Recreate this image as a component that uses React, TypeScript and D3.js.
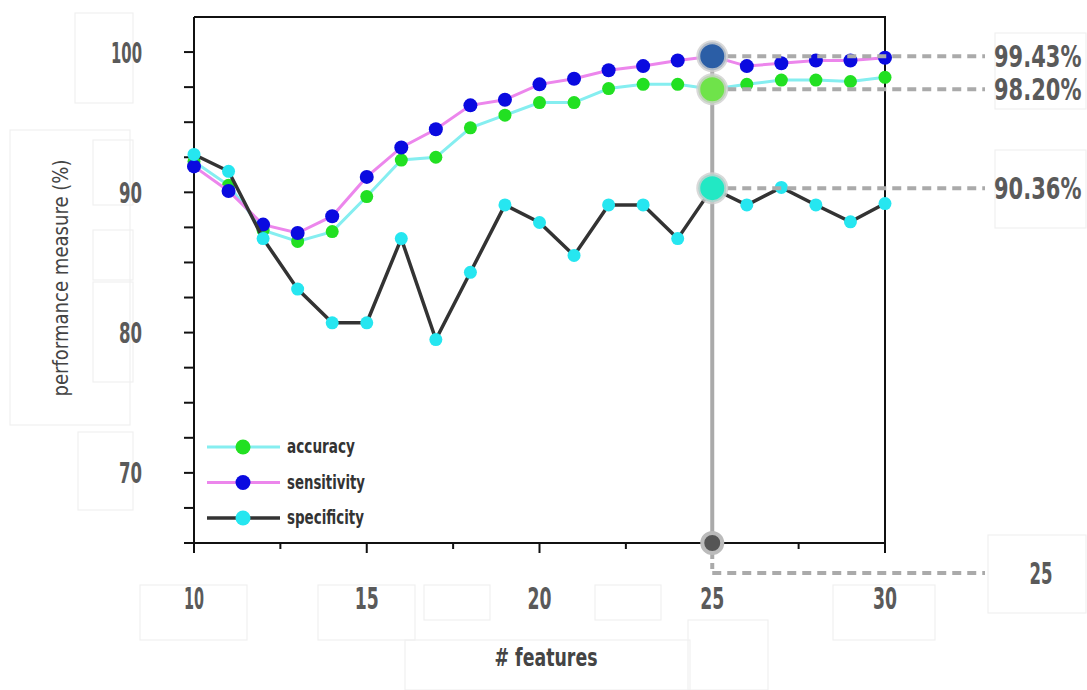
import React from "react";
import * as d3 from "d3";

const features = [10, 11, 12, 13, 14, 15, 16, 17, 18, 19, 20, 21, 22, 23, 24, 25, 26, 27, 28, 29, 30];
const accuracy = [92.2, 90.5, 87.3, 86.5, 87.2, 89.7, 92.3, 92.5, 94.6, 95.5, 96.4, 96.4, 97.4, 97.7, 97.7, 97.35, 97.7, 98.0, 98.0, 97.9, 98.2];
const sensitivity = [91.85, 90.1, 87.7, 87.1, 88.3, 91.1, 93.2, 94.5, 96.2, 96.6, 97.7, 98.1, 98.7, 99.0, 99.4, 99.7, 99.0, 99.2, 99.4, 99.4, 99.6];
const specificity = [92.7, 91.5, 86.7, 83.1, 80.7, 80.7, 86.7, 79.5, 84.3, 89.1, 87.85, 85.5, 89.1, 89.1, 86.7, 90.3, 89.1, 90.35, 89.1, 87.9, 89.2];
const yTickLabels = [70, 80, 90, 100];
const xTickLabels = [10, 15, 20, 25, 30];
const highlightX = 25;
const accuracyLabel = "98.20%";
const sensitivityLabel = "99.43%";
const specificityLabel = "90.36%";
const legendNames = ["accuracy", "sensitivity", "specificity"];

const FONT = "'DejaVu Sans', sans-serif";

function NText(props: any) {
  const { children, len, ...rest } = props;
  return (
    <text textLength={len} lengthAdjust="spacingAndGlyphs" fontFamily={FONT} {...rest}>
      {children}
    </text>
  );
}

export default function App() {
  const left = 194, right = 885, top = 17, bottom = 543;
  const x = d3.scaleLinear().domain([10, 30]).range([left, right]);
  const y = d3.scaleLinear().domain([65, 102.5]).range([bottom, top]);

  const series = [
    { name: legendNames[0], data: accuracy, label: accuracyLabel, line: "#85eef0", point: "#22e022", lw: 3, r: 6.5, big: "#6fe34a", lLen: 68 },
    { name: legendNames[1], data: sensitivity, label: sensitivityLabel, line: "#ec86ec", point: "#0a0ae0", lw: 3, r: 7, big: "#2b5ea6", lLen: 78 },
    { name: legendNames[2], data: specificity, label: specificityLabel, line: "#333333", point: "#26e6f0", lw: 3.5, r: 6.5, big: "#22e8c4", lLen: 77 },
  ];

  const lineGen = (vals: number[]) =>
    d3.line<number>().x((_, i) => x(features[i])).y((v) => y(v))(vals) || "";

  const yTicks = d3.range(65, 102.5, 2.5);
  const xTicks = d3.range(10, 30.01, 2.5);
  const hi = features.indexOf(highlightX);
  const hx = x(highlightX);
  const labelX = 985;

  const boxes = [
    [75, 13, 58, 90], [93, 140, 40, 65], [93, 230, 40, 50], [93, 282, 40, 100],
    [78, 432, 55, 78], [140, 585, 107, 55], [318, 585, 97, 55], [424, 585, 66, 35],
    [595, 585, 66, 35], [688, 620, 80, 70], [833, 585, 102, 55], [405, 640, 285, 50],
    [995, 33, 91, 76], [995, 150, 91, 78], [988, 535, 98, 78], [10, 130, 120, 295],
  ];

  return (
    <svg width={1087} height={690} style={{ position: "absolute", left: 0, top: 0, background: "#fff" }} fontFamily={FONT}>
      {boxes.map(([bx, by, bw, bh], i) => (
        <rect key={i} x={bx} y={by} width={bw} height={bh} fill="none" stroke="#f0f0f0" strokeWidth={1.2} />
      ))}
      {/* frame */}
      <path d={`M${left},${top}H${right}V${bottom}`} fill="none" stroke="#111" strokeWidth={2} />
      <line x1={left} x2={left} y1={top} y2={bottom + 6} stroke="#111" strokeWidth={2} />
      <line x1={left - 6} x2={right} y1={bottom} y2={bottom} stroke="#111" strokeWidth={2} />
      {yTicks.map((t) => (
        <line key={t} x1={left - 10} x2={left + 1} y1={y(t)} y2={y(t)} stroke="#111" strokeWidth={2} />
      ))}
      {xTicks.map((t) => (
        <line key={t} x1={x(t)} x2={x(t)} y1={bottom} y2={bottom + (t % 5 === 0 ? 10 : 6)} stroke="#111" strokeWidth={2} />
      ))}
      {yTickLabels.map((t) => (
        <NText key={t} x={142} y={y(t)} dy="0.36em" textAnchor="end" fontSize={29} fontWeight="bold" fill="#5a5a5a" len={String(t).length === 3 ? 31 : 23}>{t}</NText>
      ))}
      {xTickLabels.map((t) => (
        <NText key={t} x={x(t)} y={609} textAnchor="middle" fontSize={31} fontWeight="bold" fill="#5a5a5a" len={t === 10 ? 20 : 24}>{t}</NText>
      ))}
      <NText transform="translate(68,278) rotate(-90)" textAnchor="middle" fontSize={22} fill="#444" len={237}>performance  measure  (%)</NText>
      <NText x={546} y={666} textAnchor="middle" fontSize={25} fill="#444" fontWeight="bold" len={103}>#  features</NText>

      {/* series */}
      {series.map((s) => (
        <g key={s.name}>
          <path d={lineGen(s.data)} fill="none" stroke={s.line} strokeWidth={s.lw} />
          {s.data.map((v, i) => (
            <circle key={i} cx={x(features[i])} cy={y(v)} r={s.r} fill={s.point} />
          ))}
        </g>
      ))}

      {/* highlight */}
      <line x1={hx} x2={hx} y1={y(sensitivity[hi])} y2={bottom} stroke="#aaa" strokeWidth={4} />
      {series.map((s) => {
        const yy = y(s.data[hi]);
        return (
          <g key={s.name}>
            <line x1={hx} x2={labelX} y1={yy} y2={yy} stroke="#aaa" strokeWidth={4} strokeDasharray="9,6" />
            <text transform={`translate(994,${yy}) scale(0.7,1)`} dy="0.36em" textAnchor="start" fontSize={30} fontWeight="bold" fill="#5a5a5a" fontFamily={FONT}>{s.label}</text>
          </g>
        );
      })}
      <line x1={hx} x2={hx} y1={bottom} y2={573} stroke="#aaa" strokeWidth={4} strokeDasharray="6,4" />
      <line x1={hx} x2={labelX} y1={573} y2={573} stroke="#aaa" strokeWidth={4} strokeDasharray="9,6" />
      <NText x={1041} y={573} dy="0.36em" textAnchor="middle" fontSize={30} fontWeight="bold" fill="#5a5a5a" len={23}>{highlightX}</NText>
      {[...series].reverse().map((s) => (
        <circle key={s.name} cx={hx} cy={y(s.data[hi])} r={14} fill={s.big} stroke="#d0d0d0" strokeOpacity={0.8} strokeWidth={4} />
      ))}
      <circle cx={hx} cy={bottom} r={10} fill="#555" stroke="#bbb" strokeWidth={4} />

      {/* legend */}
      {series.map((s, k) => {
        const ly = 447 + k * 35.5;
        return (
          <g key={s.name}>
            <line x1={207} x2={280} y1={ly} y2={ly} stroke={s.line} strokeWidth={s.lw} />
            <circle cx={243} cy={ly} r={7.5} fill={s.point} />
            <NText x={287} y={ly} dy="0.32em" fontSize={19} fontWeight="bold" fill="#333" len={s.lLen}>{s.name}</NText>
          </g>
        );
      })}
    </svg>
  );
}
